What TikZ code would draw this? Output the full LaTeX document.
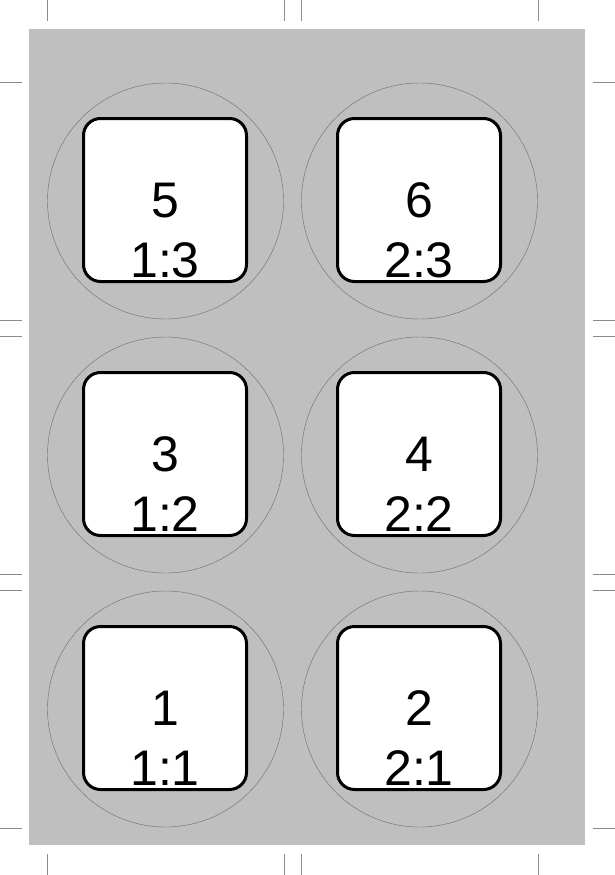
\documentclass[tikz,border=0pt]{standalone}
\usepackage{fontspec}
\setmainfont{Liberation Sans}
\begin{document}
\begin{tikzpicture}[x=1pt, y=-1pt,
    cropmark/.style={draw=black!45, line width=0.6pt},
    cellring/.style={circle, draw=black!55, line width=0.45pt, minimum size=236pt, inner sep=0pt},
    cellbox/.style={draw=black, fill=white, line width=3pt, rounded corners=17pt, minimum size=163pt, inner sep=0pt},
    celltext/.style={font=\fontsize{50}{60}\selectfont, anchor=base, inner sep=0pt}]
    \useasboundingbox (0,0) rectangle (615,875);
    % sheet background
    \fill[black!25] (29,29) rectangle (585,845);

    % crop marks
    \foreach \mx in {47,284,301,538} {
        \draw[cropmark] (\mx,0) -- (\mx,21);
        \draw[cropmark] (\mx,854) -- (\mx,875);
    }
    \foreach \my in {82,320,336,574,590,828} {
        \draw[cropmark] (0,\my) -- (22,\my);
        \draw[cropmark] (593,\my) -- (615,\my);
    }

    % cells
    \foreach \col/\cx in {1/165.5, 2/419.5} {
        \foreach \row/\cy in {1/709, 2/455, 3/201} {
            \pgfmathtruncatemacro{\num}{2*(\row-1)+\col}
            \node[cellring] (ring\num) at (\cx,\cy) {};
            \node[cellbox] (box\num) at (\cx-0.5,\cy-1) {};
            \node[celltext] (num\num) at ([yshift=-17pt]box\num.center) {\num};
            \node[celltext] (pos\num) at ([yshift=-77pt]box\num.center) {\col:\row};
        }
    }
\end{tikzpicture}
\end{document}
